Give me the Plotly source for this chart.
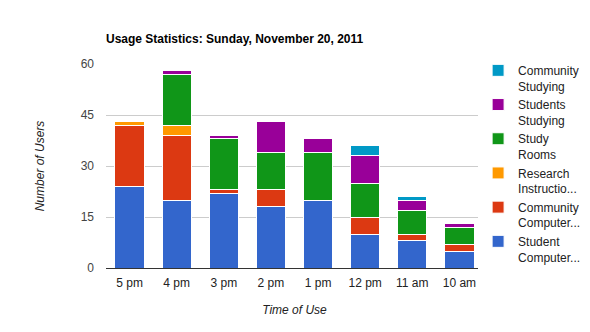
import plotly.graph_objects as go

categories = ["5 pm", "4 pm", "3 pm", "2 pm", "1 pm", "12 pm", "11 am", "10 am"]
student_computers = [24, 20, 22, 18, 20, 10, 8, 5]
community_computers = [18, 19, 1, 5, 0, 5, 2, 2]
research_instruction = [1, 3, 0, 0, 0, 0, 0, 0]
study_rooms = [0, 15, 15, 11, 14, 10, 7, 5]
students_studying = [0, 1, 1, 9, 4, 8, 3, 1]
community_studying = [0, 0, 0, 0, 0, 3, 1, 0]

series = [
    ("Student<br>Computer...", student_computers, "#3366cc"),
    ("Community<br>Computer...", community_computers, "#dc3912"),
    ("Research<br>Instructio...", research_instruction, "#ff9900"),
    ("Study<br>Rooms", study_rooms, "#109618"),
    ("Students<br>Studying", students_studying, "#990099"),
    ("Community<br>Studying", community_studying, "#0099c6"),
]

fig = go.Figure()
for name, vals, color in series:
    fig.add_trace(go.Bar(
        x=categories, y=vals, name=name,
        marker=dict(color=color, line=dict(color="white", width=1)),
    ))

fig.update_layout(
    barmode="stack",
    bargap=0.38,
    width=590, height=332,
    margin=dict(l=106, r=107, t=64, b=64, autoexpand=False),
    paper_bgcolor="white", plot_bgcolor="white",
    font=dict(family="Liberation Sans, Arial, sans-serif", size=12, color="#222222"),
    title=dict(text="<b>Usage Statistics: Sunday, November 20, 2011</b>",
               x=106/590, xanchor="left", y=1-39/332, yanchor="middle",
               font=dict(size=12, color="#000000")),
    legend=dict(traceorder="reversed", x=0.987, xanchor="left", y=1.039, yanchor="top",
                valign="top", maxheight=320,
                font=dict(size=12, color="#222222"), itemwidth=30),
    xaxis=dict(title=dict(text="<i>Time of Use</i>", standoff=16, font=dict(size=12, color="#222222")),
               showline=True, linecolor="#333333", linewidth=1, ticks="", ticklabelstandoff=4,
               tickfont=dict(size=12)),
    yaxis=dict(title=dict(text="<i>Number of Users</i>", standoff=33, font=dict(size=12, color="#222222")),
               range=[0, 60], tickvals=[0, 15, 30, 45, 60], gridcolor="#cccccc",
               ticklabelstandoff=11,
               zeroline=True, zerolinecolor="#333333", zerolinewidth=1,
               tickfont=dict(size=12, color="#444444")),
)

fig.write_html("out.html")
